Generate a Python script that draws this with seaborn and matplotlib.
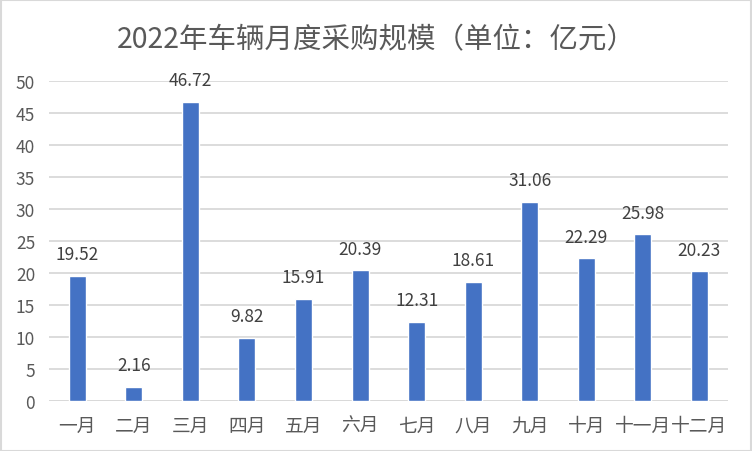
import matplotlib
matplotlib.use("Agg")
import matplotlib.pyplot as plt
import seaborn as sns
import pandas as pd
from matplotlib.patches import Rectangle

months = ["一月", "二月", "三月", "四月", "五月", "六月", "七月", "八月", "九月", "十月", "十一月", "十二月"]
values = [19.52, 2.16, 46.72, 9.82, 15.91, 20.39, 12.31, 18.61, 31.06, 22.29, 25.98, 20.23]
yticks = [0, 5, 10, 15, 20, 25, 30, 35, 40, 45, 50]
title = "2022年车辆月度采购规模（单位：亿元）"

sns.set_theme(style="white")
plt.rcParams['font.family'] = ['Noto Sans CJK SC', 'DejaVu Sans']

df = pd.DataFrame({"month": months, "value": values})

fig = plt.figure(figsize=(7.52, 4.52), dpi=100)
ax = fig.add_axes([49 / 752, 1 - 401.7 / 452, (727.7 - 49) / 752, (401.7 - 81.7) / 452])

sns.barplot(data=df, x="month", y="value", color="#4472C4", width=0.30,
            saturation=1, ax=ax, zorder=3)

ax.set_ylim(0, 50)
ax.set_xlim(-0.5, len(months) - 0.5)
ax.set_yticks(yticks)
ax.set_yticklabels([str(t) for t in yticks])
ax.yaxis.grid(True, color="#D9D9D9", linewidth=1.3, zorder=0)
ax.set_axisbelow(True)
for s in ax.spines.values():
    s.set_visible(False)
ax.axhline(0, color="#D9D9D9", linewidth=1.3, zorder=2)
ax.set_xlabel("")
ax.set_ylabel("")
ax.tick_params(axis="both", length=0, labelcolor="#595959")
ax.tick_params(axis="x", pad=10, labelsize=13.5)
ax.tick_params(axis="y", pad=10, labelsize=12.5)

for i, v in enumerate(values):
    ax.annotate(f"{v:.2f}", (i, v), xytext=(0, 15.5), textcoords="offset points",
                ha="center", va="center", fontsize=12.5, color="#404040")

fig.text(0.5, 1 - 40 / 452, title, ha="center", va="center", fontsize=20.5, color="#595959")

fig.patches.append(Rectangle((0.5 / 752, 0.5 / 452), 750.5 / 752, 450.5 / 452, transform=fig.transFigure,
                             fill=False, edgecolor="#D9D9D9", linewidth=1.5))

fig.savefig("out.png", dpi=100)
